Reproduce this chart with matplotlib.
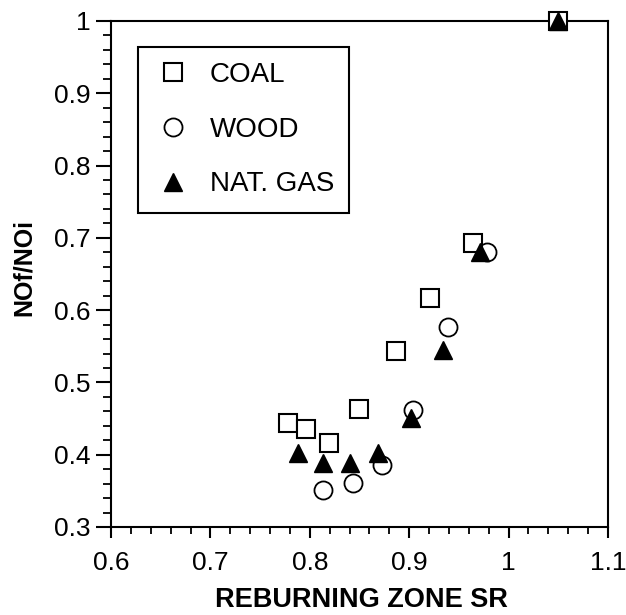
import matplotlib
matplotlib.use("Agg")
import matplotlib.pyplot as plt
from matplotlib.ticker import MultipleLocator

plt.rcParams['font.family'] = ['Liberation Sans', 'DejaVu Sans']

# reburning zone stoichiometric ratio vs. NO reduction, per reburn fuel
coal_sr = [0.778, 0.796, 0.819, 0.850, 0.887, 0.921, 0.964, 1.05]
coal_no = [0.444, 0.436, 0.416, 0.463, 0.544, 0.617, 0.693, 1.0]

wood_sr = [0.813, 0.843, 0.873, 0.904, 0.939, 0.978]
wood_no = [0.351, 0.361, 0.386, 0.462, 0.576, 0.681]

gas_sr = [0.788, 0.813, 0.840, 0.869, 0.902, 0.934, 0.971, 1.05]
gas_no = [0.402, 0.388, 0.388, 0.403, 0.451, 0.545, 0.681, 1.0]

x_ticks = [0.6, 0.7, 0.8, 0.9, 1.0, 1.1]
x_labels = ['0.6', '0.7', '0.8', '0.9', '1', '1.1']
y_ticks = [0.3, 0.4, 0.5, 0.6, 0.7, 0.8, 0.9, 1.0]
y_labels = ['0.3', '0.4', '0.5', '0.6', '0.7', '0.8', '0.9', '1']

fig = plt.figure(figsize=(6.26, 6.15), dpi=100)
ax = fig.add_axes([0.1773, 0.1431, 0.7939, 0.8228])

ms = 13
ax.plot(coal_sr, coal_no, 's', ms=ms, mfc='white', mec='black', mew=1.5,
        label='COAL', clip_on=False, zorder=3)
ax.plot(wood_sr, wood_no, 'o', ms=ms, mfc='none', mec='black', mew=1.3,
        label='WOOD', clip_on=False, zorder=4)
ax.plot(gas_sr, gas_no, '^', ms=ms, mfc='black', mec='black', mew=1.0,
        label='NAT. GAS', clip_on=False, zorder=5)

ax.set_xlim(0.6, 1.1)
ax.set_ylim(0.3, 1.0)
ax.set_xticks(x_ticks)
ax.set_xticklabels(x_labels)
ax.set_yticks(y_ticks)
ax.set_yticklabels(y_labels)
ax.xaxis.set_minor_locator(MultipleLocator(0.02))
ax.yaxis.set_minor_locator(MultipleLocator(0.02))

ax.tick_params(axis='x', which='major', direction='out', length=8, width=1.5,
               labelsize=19, pad=9)
ax.tick_params(axis='x', which='minor', direction='out', length=5, width=1.3)
ax.tick_params(axis='y', which='major', direction='out', length=11, width=1.5,
               labelsize=19, pad=4)
ax.tick_params(axis='y', which='minor', direction='out', length=6, width=1.3)
for s in ax.spines.values():
    s.set_linewidth(1.5)

ax.set_xlabel('REBURNING ZONE SR', fontsize=19.5, fontweight='bold')
ax.xaxis.set_label_coords(0.504, -0.119)
ax.set_ylabel('NOf/NOi', fontsize=18, fontweight='bold')
ax.yaxis.set_label_coords(-0.151, 0.512)

leg = ax.legend(loc='upper left', bbox_to_anchor=(0.054, 0.949), fontsize=20,
                frameon=True, fancybox=False, edgecolor='black', framealpha=1,
                handlelength=1.4, handletextpad=0.64, borderpad=0.55,
                labelspacing=1.03, borderaxespad=0, numpoints=1)
leg.get_frame().set_linewidth(1.5)

fig.savefig('out.png', dpi=100)
